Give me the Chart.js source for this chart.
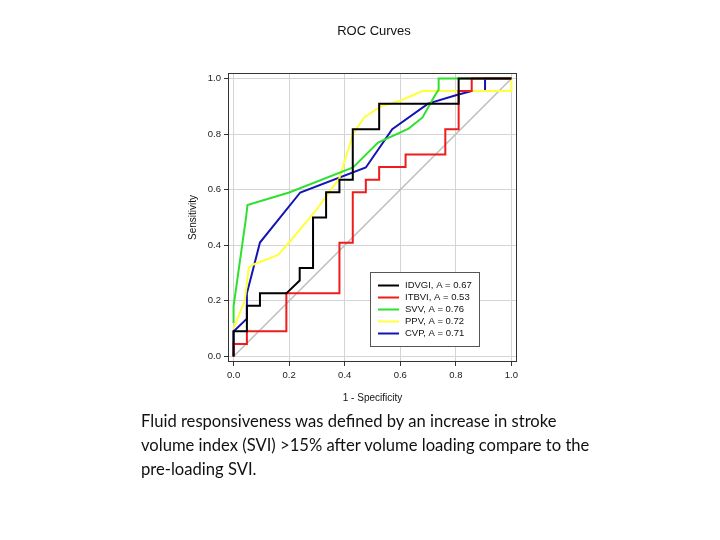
<!DOCTYPE html>
<html>
<head>
<meta charset="utf-8">
<script src="https://cdn.jsdelivr.net/npm/chart.js@4"></script>
<style>
  html, body { margin: 0; padding: 0; background: #fff; }
  #wrap { position: relative; width: 720px; height: 540px; overflow: hidden; }
  #myChart { position: absolute; left: 0; top: 0; }
  #title { position: absolute; left: 0; width: 748px; top: 23px; text-align: center;
           font: 13px "Liberation Sans", Arial, sans-serif; color: #111; }
  #caption { position: absolute; left: 141px; top: 409px; white-space: nowrap;
             font: 16.6px Lato, "Open Sans", sans-serif; line-height: 24px; color: #111; }
</style>
</head>
<body>
<div id="wrap">
  <canvas id="myChart" width="720" height="540"></canvas>
  <div id="title">ROC Curves</div>
  <div id="caption">Fluid responsiveness was defined by an increase in stroke<br>volume index (SVI) &gt;15% after volume loading compare to the<br>pre-loading SVI.</div>
</div>
<script>
const ctx = document.getElementById('myChart').getContext('2d');

const tickValues = [0, 0.2, 0.4, 0.6, 0.8, 1.0]

const idvgiX = [0, 0, 0.048, 0.048, 0.095, 0.095, 0.19, 0.238, 0.238, 0.286, 0.286, 0.333, 0.333, 0.381, 0.381, 0.429, 0.429, 0.524, 0.524, 0.81, 0.81, 1]
const idvgiY = [0, 0.091, 0.091, 0.182, 0.182, 0.227, 0.227, 0.273, 0.318, 0.318, 0.5, 0.5, 0.591, 0.591, 0.636, 0.636, 0.818, 0.818, 0.909, 0.909, 1, 1]

const itbviX = [0, 0, 0.048, 0.048, 0.19, 0.19, 0.381, 0.381, 0.429, 0.429, 0.476, 0.476, 0.524, 0.524, 0.619, 0.619, 0.762, 0.762, 0.81, 0.81, 0.857, 0.857, 1]
const itbviY = [0, 0.045, 0.045, 0.091, 0.091, 0.227, 0.227, 0.409, 0.409, 0.591, 0.591, 0.636, 0.636, 0.682, 0.682, 0.727, 0.727, 0.818, 0.818, 0.955, 0.955, 1, 1]

const svvX = [0, 0, 0.045, 0.05, 0.2, 0.43, 0.52, 0.63, 0.68, 0.725, 0.738, 0.738, 1]
const svvY = [0.12, 0.18, 0.5, 0.545, 0.59, 0.68, 0.77, 0.82, 0.86, 0.94, 0.96, 1, 1]

const ppvX = [0, 0.04, 0.055, 0.07, 0.16, 0.2, 0.3, 0.38, 0.43, 0.47, 0.53, 0.6, 0.68, 1, 1]
const ppvY = [0.1, 0.2, 0.32, 0.33, 0.365, 0.41, 0.53, 0.64, 0.8, 0.86, 0.9, 0.92, 0.955, 0.955, 1]

const cvpX = [0, 0, 0.048, 0.048, 0.095, 0.24, 0.476, 0.571, 0.7, 0.8, 0.857, 0.905, 0.905, 1]
const cvpY = [0, 0.09, 0.136, 0.227, 0.41, 0.59, 0.68, 0.818, 0.91, 0.94, 0.955, 0.955, 1, 1]

const diagX = [0, 1]
const diagY = [0, 1]

const labels = ['IDVGI, A = 0.67', 'ITBVI, A = 0.53', 'SVV, A = 0.76', 'PPV, A = 0.72', 'CVP, A = 0.71']
const colors = ['#000000', '#ee1c1c', '#2fe02f', '#ffff3a', '#1414b4']

function pts(xs, ys) {
    return xs.map((x, i) => ({ x: x, y: ys[i] }))
}

const series = [[idvgiX, idvgiY], [itbviX, itbviY], [svvX, svvY], [ppvX, ppvY], [cvpX, cvpY]]

const datasets = series.map((s, i) => ({
    label: labels[i],
    data: pts(s[0], s[1]),
    borderColor: colors[i],
    backgroundColor: colors[i],
    borderWidth: 2,
    showLine: true,
    pointRadius: 0,
    tension: 0
}))
// reference diagonal goes last so it sits underneath
datasets.push({
    label: 'diag',
    data: pts(diagX, diagY),
    borderColor: '#bdbdbd',
    borderWidth: 1.5,
    showLine: true,
    pointRadius: 0
})

const boxAndLegend = {
    id: 'boxAndLegend',
    afterDraw(chart) {
        const c = chart.ctx
        const a = chart.chartArea
        c.save()
        c.strokeStyle = '#333'
        c.lineWidth = 1
        c.strokeRect(a.left + 0.5, a.top + 0.5, a.right - a.left - 1, a.bottom - a.top - 1)

        // legend box, bottom right inside the plot
        const lx = a.left + 142, ly = a.top + 199, lw = 109, lh = 74
        c.fillStyle = '#fff'
        c.fillRect(lx, ly, lw, lh)
        c.strokeStyle = '#555'
        c.strokeRect(lx + 0.5, ly + 0.5, lw, lh)
        c.font = '9.5px "Liberation Sans", Arial, sans-serif'
        c.textBaseline = 'middle'
        labels.forEach((t, i) => {
            const yy = ly + 13.5 + i * 12
            c.strokeStyle = colors[i]
            c.lineWidth = 2
            c.beginPath()
            c.moveTo(lx + 8, yy)
            c.lineTo(lx + 29, yy)
            c.stroke()
            c.fillStyle = '#111'
            c.fillText(t, lx + 35, yy)
        })
        c.restore()
    }
}

const axisFont = { family: '"Liberation Sans", Arial, sans-serif', size: 9.5 }
const titleFont = { family: '"Liberation Sans", Arial, sans-serif', size: 10 }

const myChart = new Chart(ctx, {
    type: 'scatter',
    data: { datasets: datasets },
    options: {
        responsive: false,
        animation: false,
        layout: { padding: { left: 183, top: 73, right: 203, bottom: 136 } },
        plugins: {
            legend: { display: false },
            tooltip: { enabled: false }
        },
        scales: {
            x: {
                type: 'linear',
                min: -0.02,
                max: 1.02,
                afterBuildTicks: (scale) => { scale.ticks = tickValues.map(v => ({ value: v })) },
                afterFit: (scale) => { scale.height = 42 },
                ticks: { font: axisFont, color: '#222', padding: 4, maxRotation: 0,
                         callback: (v) => Number(v).toFixed(1) },
                grid: { color: '#d4d4d4', tickColor: '#333', tickLength: 4 },
                border: { display: false },
                title: { display: true, text: '1 - Specificity', font: titleFont, color: '#111',
                         padding: { top: 4, bottom: 0 } }
            },
            y: {
                type: 'linear',
                min: -0.02,
                max: 1.02,
                afterBuildTicks: (scale) => { scale.ticks = tickValues.map(v => ({ value: v })) },
                afterFit: (scale) => { scale.width = 45 },
                ticks: { font: axisFont, color: '#222', padding: 3,
                         callback: (v) => Number(v).toFixed(1) },
                grid: { color: '#d4d4d4', tickColor: '#333', tickLength: 4 },
                border: { display: false },
                title: { display: true, text: 'Sensitivity', font: titleFont, color: '#111',
                         padding: { top: 4, bottom: 0 } }
            }
        }
    },
    plugins: [boxAndLegend]
});
</script>
</body>
</html>
